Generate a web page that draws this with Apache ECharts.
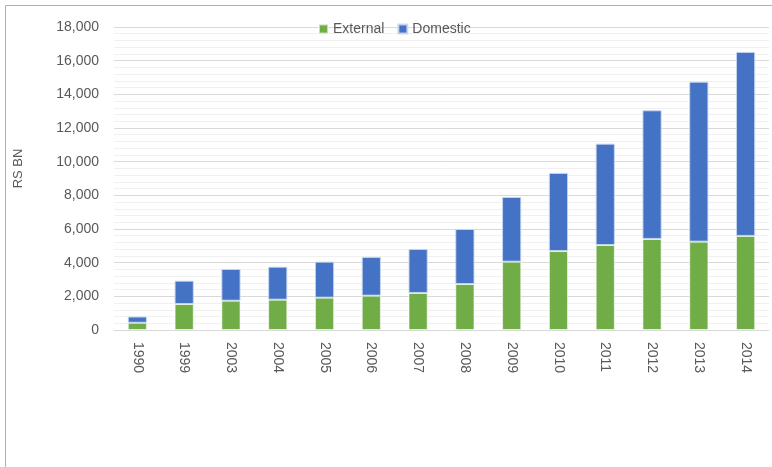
<!DOCTYPE html>
<html>
<head>
<meta charset="utf-8">
<script src="https://cdn.jsdelivr.net/npm/echarts@6/dist/echarts.min.js"></script>
<style>
html,body{margin:0;padding:0;background:#fff;}
#c{width:772px;height:467px;}
</style>
</head>
<body>
<div id="c"></div>
<script>
const years = ['1990','1999','2003','2004','2005','2006','2007','2008','2009','2010','2011','2012','2013','2014'];
const external = [430, 1545, 1740, 1800, 1920, 2040, 2200, 2730, 4060, 4690, 5050, 5410, 5250, 5590];
const domestic = [370, 1385, 1885, 1960, 2140, 2300, 2615, 3270, 3840, 4640, 6020, 7640, 9500, 10930];
const yTicks = {min: 0, max: 18000, step: 2000};

const chart = echarts.init(document.getElementById('c'));
const font = '"Liberation Sans", Arial, sans-serif';
chart.setOption({
  animation: false,
  textStyle: {fontFamily: font},
  graphic: [{
    type: 'rect', shape: {x: 5.5, y: 5.5, width: 900, height: 600},
    style: {fill: 'none', stroke: '#b0b0b0', lineWidth: 1}, silent: true
  }],
  legend: {
    top: 17, left: 313, itemWidth: 9, itemHeight: 9, itemGap: 13,
    icon: 'rect',
    textStyle: {color: '#595959', fontSize: 14, fontFamily: font},
    data: ['External', 'Domestic']
  },
  grid: {left: 114, right: 3, top: 27, bottom: 137, containLabel: false},
  xAxis: {
    type: 'category', data: years,
    axisLine: {lineStyle: {color: '#d9d9d9'}},
    axisTick: {show: false},
    axisLabel: {rotate: -90, color: '#595959', fontSize: 14, margin: 12, fontFamily: font}
  },
  yAxis: {
    type: 'value', min: yTicks.min, max: yTicks.max, interval: yTicks.step,
    name: 'RS BN', nameLocation: 'middle', nameGap: 89, nameRotate: 90,
    nameTextStyle: {color: '#595959', fontSize: 13, fontFamily: font, padding: [0, 0, 0, 20]},
    axisLine: {show: false}, axisTick: {show: false},
    axisLabel: {color: '#595959', fontSize: 14, margin: 15, fontFamily: font,
      formatter: v => v.toLocaleString('en-US')},
    splitLine: {lineStyle: {color: '#d9d9d9'}},
    minorTick: {show: false, splitNumber: 5},
    minorSplitLine: {show: true, lineStyle: {color: '#f0f0f0'}}
  },
  series: [
    {name: 'External', type: 'bar', stack: 't', data: external, barWidth: '41%',
      itemStyle: {color: '#70AD47', borderColor: 'rgba(255,255,255,0.6)', borderWidth: 1}},
    {name: 'Domestic', type: 'bar', stack: 't', data: domestic, barWidth: '41%',
      itemStyle: {color: '#4472C4', borderColor: 'rgba(200,215,240,0.9)', borderWidth: 1}}
  ]
});
</script>
</body>
</html>
